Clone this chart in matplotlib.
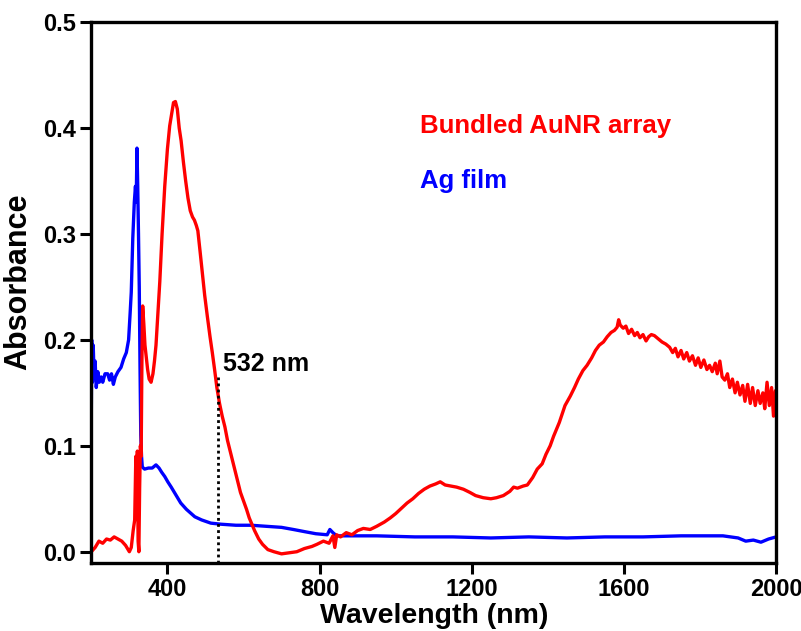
import matplotlib.pyplot as plt

# Bundled AuNR array (red)
aunr_nm = [200, 210, 220, 230, 240, 250, 260, 270, 280, 290, 300, 305, 310, 314, 317,
           319, 321, 323, 325, 327, 329, 331, 333, 335, 338, 341, 344, 348, 352, 357,
           362, 366, 370, 375, 380, 386, 393, 400, 406, 412, 416, 421, 426, 431, 436,
           442, 448, 454, 460, 466, 471, 476, 480, 486, 492, 498, 505, 512, 518, 524,
           530, 537, 544, 551, 558, 565, 571, 577, 585, 592, 600, 608, 615, 622, 629,
           640, 650, 664, 680, 700, 720, 740, 760, 780, 793, 810, 825, 835, 840, 845,
           855, 870, 885, 900, 915, 933, 950, 970, 986, 1000, 1015, 1030, 1045, 1060,
           1075, 1090, 1105, 1117, 1130, 1145, 1160, 1178, 1195, 1210, 1230, 1250, 1265,
           1283, 1300, 1310, 1320, 1335, 1346, 1360, 1372, 1385, 1395, 1406, 1415, 1430,
           1445, 1459, 1470, 1480, 1492, 1503, 1515, 1525, 1535, 1546, 1556, 1566, 1575,
           1582, 1586, 1590, 1598, 1605, 1612, 1620, 1628, 1635, 1642, 1650, 1658, 1665,
           1672, 1680, 1690, 1700, 1710, 1720, 1728, 1735, 1742, 1750, 1757, 1765, 1772,
           1780, 1788, 1795, 1802, 1810, 1818, 1825, 1832, 1840, 1845, 1852, 1858, 1865,
           1872, 1878, 1885, 1892, 1898, 1905, 1912, 1918, 1925, 1932, 1938, 1945, 1952,
           1958, 1965, 1970, 1976, 1982, 1988, 1993, 1998, 2000]
aunr_abs = [0.000, 0.004, 0.010, 0.008, 0.012, 0.011, 0.014, 0.012, 0.010, 0.006, 0.000,
            0.004, 0.020, 0.030, 0.090, 0.040, 0.095, 0.010, 0.000, 0.060, 0.100, 0.090,
            0.180, 0.232, 0.215, 0.195, 0.185, 0.172, 0.163, 0.160, 0.168, 0.180, 0.195,
            0.225, 0.255, 0.300, 0.345, 0.380, 0.402, 0.415, 0.424, 0.425, 0.418, 0.400,
            0.388, 0.368, 0.350, 0.334, 0.322, 0.316, 0.313, 0.308, 0.303, 0.283, 0.262,
            0.242, 0.222, 0.203, 0.188, 0.172, 0.155, 0.140, 0.128, 0.118, 0.105, 0.095,
            0.086, 0.078, 0.066, 0.056, 0.048, 0.040, 0.032, 0.026, 0.020, 0.012, 0.007,
            0.002, 0.000, -0.002, -0.001, 0.000, 0.003, 0.005, 0.007, 0.010, 0.008, 0.015,
            0.004, 0.016, 0.014, 0.018, 0.016, 0.020, 0.022, 0.021, 0.024, 0.028, 0.032,
            0.036, 0.041, 0.046, 0.050, 0.055, 0.059, 0.062, 0.064, 0.066, 0.063, 0.062,
            0.061, 0.059, 0.056, 0.053, 0.051, 0.050, 0.051, 0.053, 0.057, 0.061, 0.060,
            0.062, 0.063, 0.070, 0.078, 0.083, 0.092, 0.100, 0.109, 0.122, 0.138, 0.147,
            0.155, 0.163, 0.171, 0.176, 0.183, 0.190, 0.195, 0.198, 0.203, 0.207, 0.209,
            0.212, 0.219, 0.214, 0.211, 0.213, 0.206, 0.210, 0.204, 0.207, 0.202, 0.205,
            0.199, 0.203, 0.205, 0.204, 0.201, 0.198, 0.196, 0.193, 0.188, 0.192, 0.184,
            0.190, 0.182, 0.188, 0.180, 0.185, 0.176, 0.183, 0.174, 0.181, 0.172, 0.176,
            0.170, 0.178, 0.168, 0.180, 0.165, 0.162, 0.168, 0.155, 0.163, 0.150, 0.160,
            0.148, 0.157, 0.142, 0.158, 0.140, 0.155, 0.138, 0.152, 0.140, 0.150, 0.135,
            0.160, 0.138, 0.155, 0.128, 0.152, 0.150]

# Ag film (blue)
ag_nm = [200, 201, 203, 205, 207, 210, 213, 217, 221, 226, 230, 236, 243, 248, 253, 258,
         263, 270, 278, 285, 292, 298, 302, 305, 309, 313, 316, 318, 320, 322, 324, 326,
         328, 330, 332, 334, 340, 350, 360, 370, 378, 385, 393, 401, 410, 420, 435, 450,
         472, 490, 514, 540, 580, 620, 660, 700, 731, 760, 790, 820, 827, 835,
         845, 870, 950, 1050, 1150, 1250, 1350, 1450, 1550, 1650, 1750, 1820, 1860, 1900,
         1920, 1940, 1960, 1980, 2000]
ag_abs = [0.130, 0.200, 0.160, 0.195, 0.170, 0.180, 0.155, 0.170, 0.160, 0.165, 0.160,
          0.168, 0.168, 0.162, 0.168, 0.158, 0.165, 0.170, 0.174, 0.182, 0.188, 0.200,
          0.225, 0.245, 0.296, 0.330, 0.345, 0.330, 0.381, 0.345, 0.300, 0.250, 0.175,
          0.110, 0.090, 0.080, 0.078, 0.079, 0.079, 0.082, 0.079, 0.075, 0.071, 0.066,
          0.061, 0.055, 0.046, 0.040, 0.033, 0.030, 0.027, 0.026, 0.025, 0.025, 0.024,
          0.023, 0.021, 0.019, 0.017, 0.016, 0.021, 0.018, 0.015, 0.015,
          0.015, 0.014, 0.014, 0.013, 0.014, 0.013, 0.014, 0.014, 0.015, 0.015, 0.015,
          0.013, 0.010, 0.011, 0.009, 0.012, 0.014]

laser_nm = 532
laser_top = 0.165
x_ticks = [400, 800, 1200, 1600, 2000]
y_ticks = [0.0, 0.1, 0.2, 0.3, 0.4, 0.5]

plt.rcParams['font.family'] = ['Liberation Sans', 'DejaVu Sans']
plt.rcParams['font.weight'] = 'bold'

fig = plt.figure(figsize=(8.01, 6.31), dpi=100)
ax = fig.add_axes([0.114, 0.108, 0.855, 0.857])

ax.plot(ag_nm, ag_abs, color='#0000ff', lw=2.4)
ax.plot(aunr_nm, aunr_abs, color='#ff0000', lw=2.4)
ax.plot([laser_nm, laser_nm], [-0.0105, laser_top], color='black', lw=2, ls=(0, (1, 1.2)))

ax.text(547, 0.177, '532 nm', fontsize=18, fontweight='bold', va='center', ha='left')
ax.text(1064, 0.402, 'Bundled AuNR array', color='#ff0000', fontsize=18.5,
        fontweight='bold', va='center', ha='left')
ax.text(1064, 0.350, 'Ag film', color='#0000ff', fontsize=18.5,
        fontweight='bold', va='center', ha='left')

ax.set_xlim(200, 2000)
ax.set_ylim(-0.0105, 0.5)
ax.set_xticks(x_ticks)
ax.set_yticks(y_ticks)
ax.set_yticklabels(['%.1f' % v for v in y_ticks])
ax.tick_params(axis='both', direction='out', length=8, width=2.2, labelsize=17, pad=3)
for side in ['top', 'right', 'bottom', 'left']:
    ax.spines[side].set_linewidth(2.4)
for lab in ax.get_xticklabels() + ax.get_yticklabels():
    lab.set_fontweight('bold')

ax.set_xlabel('Wavelength (nm)', fontsize=20.5, fontweight='bold', va='top')
ax.xaxis.set_label_coords(0.5, -0.074)
ax.set_ylabel('Absorbance', fontsize=22, fontweight='bold', va='bottom')
ax.yaxis.set_label_coords(-0.085, 0.52)

fig.savefig('out.png', dpi=100)
